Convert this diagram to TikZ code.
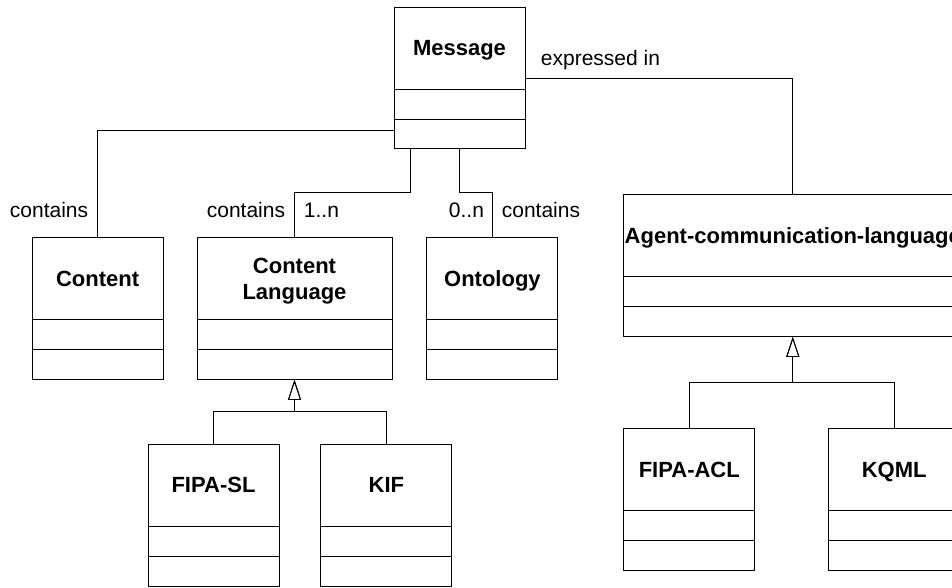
\documentclass[tikz,border=0pt]{standalone}
\usepackage{fontspec}
\setmainfont{Liberation Sans}
\usetikzlibrary{positioning, shapes.multipart, arrows.meta}

\newcommand{\clsname}[2]{\parbox[c][81pt][c]{#1}{\centering\bfseries\fontsize{22}{26}\selectfont #2\par\vskip-\prevdepth}}

\begin{document}
\begin{tikzpicture}[
      node distance=33pt,
      line width=0.9pt,
      cls/.style={draw, rectangle split, rectangle split parts=3, inner sep=0pt,
        rectangle split empty part height=29pt, font=\fontsize{21}{26}\selectfont},
      lbl/.style={inner sep=0pt, font=\fontsize{21}{26}\selectfont},
      gen/.style={-{Triangle[open, width=13pt, length=20pt]}}]

      \useasboundingbox (0,0) rectangle (952pt,-587pt);
      \clip (0,0) rectangle (952pt,-587pt);

      \node[cls] (message) at (459.5pt,-78pt) {\clsname{131pt}{Message}};

      \node[cls] (language) [below=88pt of message, xshift=-165pt] {\clsname{195pt}{Content\\Language}}; %
      \node[cls] (content) [left=of language] {\clsname{131pt}{Content}};
      \node[cls] (ontology) [right=34pt of language] {\clsname{131pt}{Ontology}};
      \node[cls] (acl) [right=65pt of ontology, yshift=43pt] {\clsname{338pt}{Agent-communication-language}};

      \node[cls] (fipasl) [below=64pt of language, xshift=-81pt] {\clsname{131pt}{FIPA-SL}}; %
      \node[cls] (kif) [right=41pt of fipasl] {\clsname{131pt}{KIF}};

      \node[cls] (fipaacl) [below=91.5pt of acl, xshift=-103.5pt] {\clsname{131pt}{FIPA-ACL}}; %
      \node[cls] (kqml) [right=73pt of fipaacl] {\clsname{131pt}{KQML}};

      % associations
      \draw ([yshift=3pt]message.three west) -| (content.north) node[lbl, anchor=base east, xshift=-9pt, yshift=20pt] (contentrole) {contains};
      \draw ([xshift=17pt]message.south west) -- ++(0,-43pt) -| (language.north) node[lbl, anchor=base east, xshift=-9pt, yshift=20pt] (languagerole) {contains} node[lbl, anchor=base west, xshift=9pt, yshift=20pt] (languagemult) {1..n};
      \draw (message.south) -- ++(0,-43pt) -| (ontology.north) node[lbl, anchor=base east, xshift=-8pt, yshift=20pt] (ontologymult) {0..n} node[lbl, anchor=base west, xshift=9pt, yshift=20pt] (ontologyrole) {contains};
      \draw (message.east) node[lbl, anchor=base west, xshift=15pt, yshift=13pt] (aclrole) {expressed in} -| (acl.north);

      % generalizations
      \coordinate (langjoin) at ([yshift=-32pt]language.south);
      \draw[gen] (fipasl.north) |- (langjoin) -- (language.south);
      \draw[gen] (kif.north) |- (langjoin) -- (language.south);
      \coordinate (acljoin) at ([yshift=-46pt]acl.south);
      \draw[gen] (fipaacl.north) |- (acljoin) -- (acl.south);
      \draw[gen] (kqml.north) |- (acljoin) -- (acl.south);
\end{tikzpicture}
\end{document}
